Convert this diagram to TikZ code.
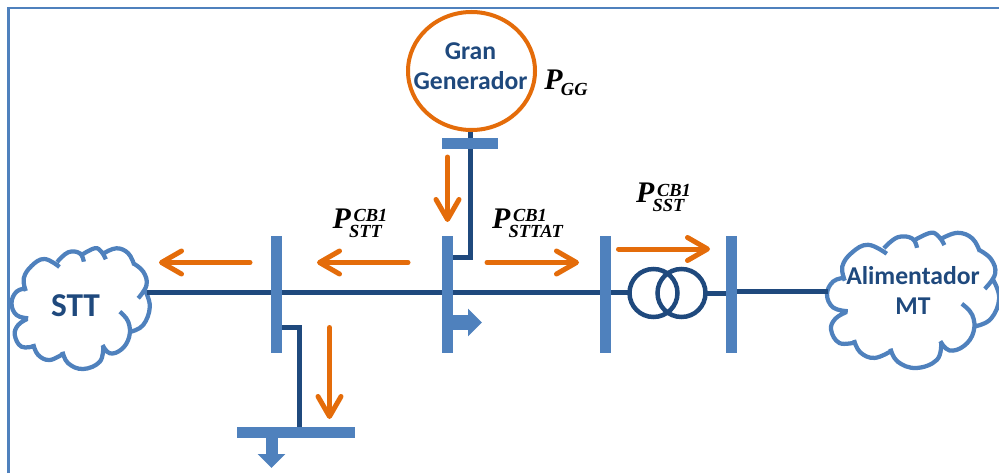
\documentclass[tikz,border=0pt]{standalone}
\usepackage{fontspec}
\setmainfont{Carlito}
\newfontfamily\pfont{Liberation Serif}
\usetikzlibrary{arrows.meta,shapes.geometric}

\definecolor{barblue}{HTML}{4F81BD}
\definecolor{darkblue}{HTML}{1F497D}
\definecolor{flow}{HTML}{E46C0A}

\newcommand{\plabel}[2]{{\pfont\bfseries\itshape\fontsize{17}{17}\selectfont P}$^{\hbox{\kern1.5pt\pfont\bfseries\itshape\fontsize{10.5}{10.5}\selectfont #2}}_{\hbox{\kern-1pt\pfont\bfseries\itshape\fontsize{10.5}{10.5}\selectfont #1}}$}

\tikzset{
    vbus/.style={fill=barblue,minimum width=0.22cm,minimum height=2.34cm,inner sep=0pt,outer sep=0pt},
    hbus/.style={fill=barblue,minimum height=0.22cm,inner sep=0pt,outer sep=0pt},
    feeder/.style={draw=darkblue,line width=0.1cm},
    winding/.style={circle,draw=darkblue,line width=0.09cm,minimum size=0.96cm,inner sep=0pt,outer sep=0pt},
    flowarrow/.style={draw=flow,line width=0.1cm,line cap=round,-{Straight Barb[length=0.4cm,width=0.46cm,round]}},
    loadarrow/.style={draw=barblue,-{Triangle[length=0.28cm,width=0.54cm]}},
    caption/.style={text=darkblue,font=\bfseries\fontsize{14.6}{17}\selectfont,align=center,inner sep=0pt},
    pics/feedercloud/.style={code={
        \draw[draw=barblue,line width=0.085cm,smooth,tension=0.7]
            plot coordinates {(14.3,78) (12.3,90.7) (20,103) (33,110) (48,102)}
            plot coordinates {(45.7,107) (56.7,116.7) (68.3,115.7) (72.3,107.3)}
            plot coordinates {(70,114) (83.3,120.7) (90,117) (94.3,109.7)}
            plot coordinates {(92.3,115.7) (105,120.7) (116.7,115.7) (122.7,104)}
            plot coordinates {(121.7,105.7) (131.7,97.3) (135,84) (126.7,70.7)}
            plot coordinates {(133.3,79) (138.3,62.3) (131.7,44) (119.3,37.3)}
            plot coordinates {(108.3,57.3) (116.7,47.3) (117.7,32.3) (110,19.7) (98.3,15.7) (91,24)}
            plot coordinates {(91.7,22.3) (88.3,7.3) (71.7,0) (56.7,5.7) (51,17.3)}
            plot coordinates {(52.3,15.7) (38.3,9) (26.7,14) (21.7,25)}
            plot coordinates {(23.3,23) (10,22.3) (3.3,34) (6.7,44) (15.7,50)}
            plot coordinates {(16.7,50.7) (5,54) (0,65.7) (5,77.3) (15,80.7)};
    }}
}

\begin{document}
\begin{tikzpicture}
    \useasboundingbox (0,0) rectangle (19.98,9.46);

    % frame
    \draw[draw=barblue,line width=0.05cm] (0.17,0) -- (0.17,9.3) -- (19.98,9.3);

    % clouds
    \pic[x=0.02cm,y=0.02cm] at (0.23cm,2.08cm) {feedercloud};
    \pic[x=0.0249cm,y=0.0224cm] at (16.54cm,2.10cm) {feedercloud};
    \node[caption,font=\bfseries\fontsize{19}{19}\selectfont] (stt) at (1.51,3.34) {STT};
    \node[caption] (mt) at (18.26,3.65) {Alimentador\\MT};
    \coordinate (sttport) at (2.94,3.62);
    \coordinate (mtport) at (16.56,3.64);

    % generator
    \node[ellipse,draw=flow,line width=0.08cm,minimum width=2.54cm,minimum height=2.36cm,inner sep=0pt] (gen) at (9.43,8.04) {};
    \node[caption] (gencaption) at (9.41,8.14) {Gran\\Generador};

    % buses
    \node[hbus,minimum width=1.12cm] (busg) at (9.40,6.59) {};
    \node[vbus] (busa) at (5.53,3.57) {};
    \node[vbus] (busb) at (8.95,3.57) {};
    \node[vbus] (busc) at (12.11,3.57) {};
    \node[vbus] (busd) at (14.63,3.57) {};
    \node[hbus,minimum width=2.36cm] (buse) at (5.92,0.81) {};

    % transformer
    \node[winding] (tra) at (13.07,3.6) {};
    \node[winding] (trb) at (13.63,3.6) {};

    % lines
    \draw[feeder] (sttport) -- (sttport -| busa.west);
    \draw[feeder] (sttport -| busa.east) -- (sttport -| busb.west);
    \draw[feeder] (sttport -| busb.east) -- (sttport -| busc.west);
    \draw[feeder] (sttport -| busc.east) -- (sttport -| tra.west);
    \draw[feeder] (trb.east) -- (trb.east -| busd.west);
    \draw[feeder] (mtport -| busd.east) -- (mtport);

    \coordinate (gbend) at (9.4,4.32);
    \coordinate (abend) at (5.98,2.92);
    \draw[feeder] (busg.north) -- (busg.north |- gen.south);
    \draw[feeder] (busg.south) -- (gbend) -- (gbend -| busb.east);
    \draw[feeder] (abend -| busa.east) -- (abend) -- (abend |- buse.north);

    % loads
    \coordinate (loadtip) at (5.43,0.10);
    \coordinate (busbtip) at (9.64,3.01);
    \draw[loadarrow,line width=0.24cm] (loadtip |- buse.south) -- (loadtip);
    \draw[loadarrow,line width=0.3cm] (busbtip -| busb.east) -- (busbtip);

    % flows
    \coordinate (fa) at (5.00,4.21);
    \coordinate (fb) at (3.18,4.21);
    \coordinate (fc) at (8.16,4.21);
    \coordinate (fd) at (6.34,4.21);
    \coordinate (fe) at (8.95,6.32);
    \coordinate (ff) at (8.95,5.02);
    \coordinate (fg) at (9.74,4.21);
    \coordinate (fh) at (11.58,4.21);
    \coordinate (fi) at (12.37,4.48);
    \coordinate (fj) at (14.20,4.48);
    \coordinate (fk) at (6.59,2.91);
    \coordinate (fl) at (6.59,1.08);
    \draw[flowarrow] (fa) -- (fb);
    \draw[flowarrow] (fc) -- (fd);
    \draw[flowarrow] (fe) -- (ff);
    \draw[flowarrow] (fg) -- (fh);
    \draw[flowarrow] (fi) -- (fj);
    \draw[flowarrow] (fk) -- (fl);

    % power labels
    \node[inner sep=0pt] (pgg) at (11.33,7.80) {{\pfont\bfseries\itshape\fontsize{17}{17}\selectfont P}$_{\hbox{\kern-1pt\pfont\bfseries\itshape\fontsize{10.5}{10.5}\selectfont GG}}$};
    \node[inner sep=0pt] (pstt) at (7.21,5.00) {\plabel{STT}{CB1}};
    \node[inner sep=0pt] (pat) at (10.56,5.00) {\plabel{STTAT}{CB1}};
    \node[inner sep=0pt] (psst) at (13.28,5.51) {\plabel{SST}{CB1}};
\end{tikzpicture}
\end{document}
